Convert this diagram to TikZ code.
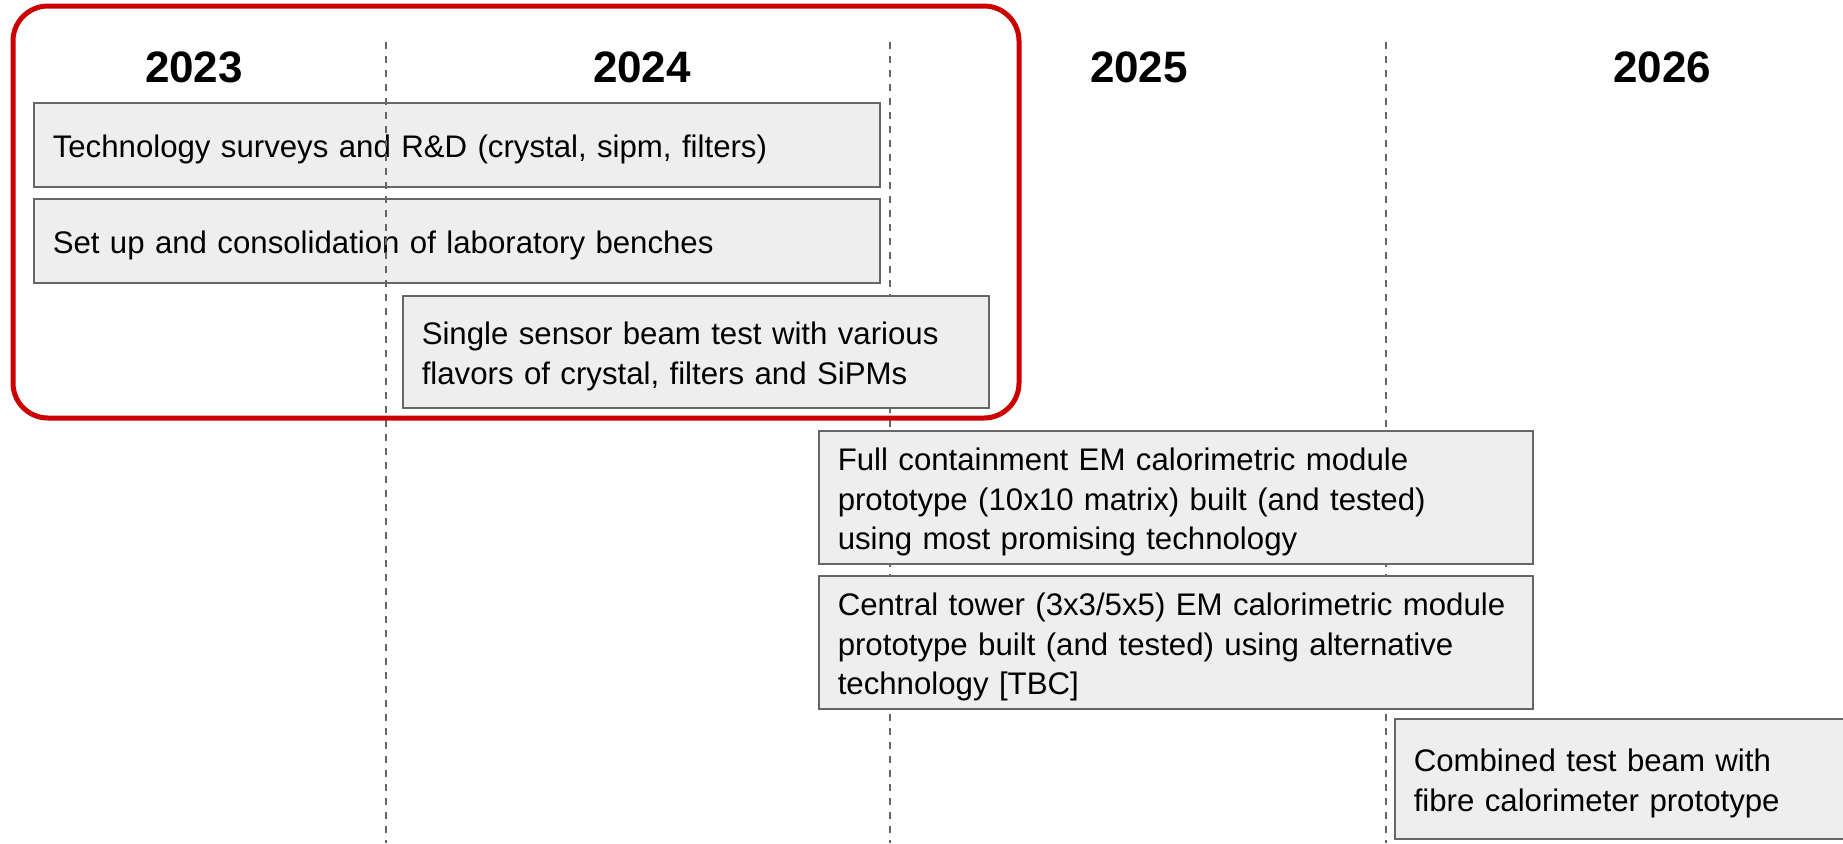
\documentclass[tikz,border=0pt]{standalone}
\usepackage{fontspec}
\setmainfont{Liberation Sans}
\usetikzlibrary{positioning}
\definecolor{boxfill}{HTML}{EEEEEE}
\definecolor{boxline}{HTML}{666666}
\definecolor{frame}{HTML}{CC0000}
\tikzset{task/.style={draw=boxline, fill=boxfill, line width=0.75pt, anchor=north west,
    align=left, inner xsep=9.5pt, inner ysep=0pt, text height=16pt,
    font=\fontsize{15.6}{19.7}\selectfont}}
\tikzset{year/.style={font=\fontsize{22}{26}\selectfont\bfseries}}
\tikzset{yearsep/.style={boxline, line width=0.75pt, dash pattern=on 3.5pt off 3.5pt}}

\begin{document}
\begin{tikzpicture}[x=0.5pt, y=-0.5pt]
                    \useasboundingbox (0,0) rectangle (1843,843);

                    % years
                    \node[year] (y23) at (194,67) {2023};
                    \node[year] (y24) at (642,67) {2024};
                    \node[year] (y25) at (1139,67) {2025};
                    \node[year] (y26) at (1662,67) {2026};

                    \node[task, minimum width=423pt, minimum height=42pt, text width=404pt] (survey) at (33,102)
                        {Technology surveys and R\&D (crystal, sipm, filters)};
                    \node[task, minimum width=423pt, minimum height=42pt, text width=404pt] (bench) at (33,198)
                        {Set up and consolidation of laboratory benches};

                    % year separators
                    \foreach \n/\x in {a/386, b/890, c/1386} {
                        \coordinate (sep\n top) at (\x,42);
                        \coordinate (sep\n bot) at (\x,843);
                        \draw[yearsep] (sep\n top) -- (sep\n bot);
                    }

                    \node[task, minimum width=293pt, minimum height=56pt, text width=274pt] (single) at (402,295)
                        {Single sensor beam test with various\\flavors of crystal, filters and SiPMs};
                    \node[task, minimum width=357pt, minimum height=66.5pt, text width=338pt] (full) at (818,430)
                        {Full containment EM calorimetric module\\prototype (10x10 matrix) built (and tested)\\using most promising technology};
                    \node[task, minimum width=357pt, minimum height=66.5pt, text width=338pt] (tower) at (818,575)
                        {Central tower (3x3/5x5) EM calorimetric module\\prototype built (and tested) using alternative\\technology [TBC]};
                    \node[task, minimum width=225pt, minimum height=60pt, text width=206pt] (combined) at (1394,718)
                        {Combined test beam with\\fibre calorimeter prototype};

                    \draw[frame, line width=2.5pt, rounded corners=17.5pt] (13,6) rectangle (1019,418);
                \end{tikzpicture}
\end{document}
